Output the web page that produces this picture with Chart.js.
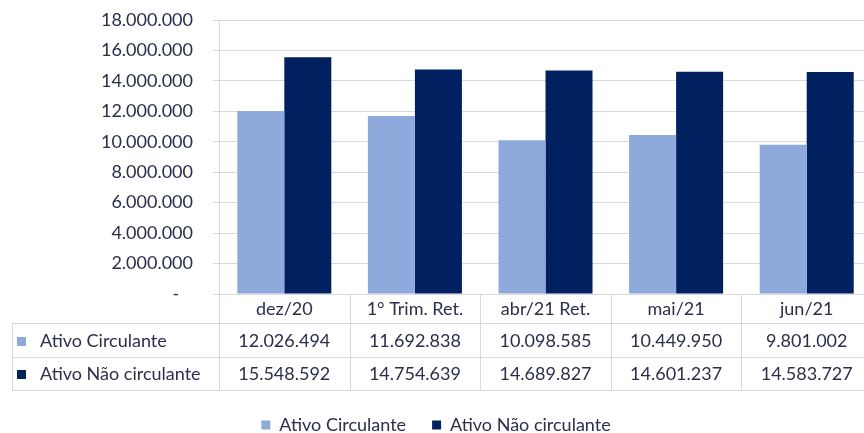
<!DOCTYPE html>
<html>
<head>
<meta charset="utf-8">
<script src="https://cdn.jsdelivr.net/npm/chart.js@4"></script>
<style>
html, body { margin: 0; padding: 0; background: #fff; }
#wrap { width: 864px; height: 433px; overflow: hidden; }
#wrap canvas { display: block; }
</style>
</head>
<body>
<div id="wrap"><canvas id="myChart" width="872" height="433"></canvas></div>
<script>
// dados do gráfico
const categorias = ['dez/20', '1° Trim. Ret.', 'abr/21 Ret.', 'mai/21', 'jun/21'];
const ativoCirculante = [12026494, 11692838, 10098585, 10449950, 9801002];
const ativoNaoCirculante = [15548592, 14754639, 14689827, 14601237, 14583727];
const series = ['Ativo Circulante', 'Ativo Não circulante'];
const cores = ['#8EA9DB', '#002060'];
const yMin = 0, yMax = 18000000, yPasso = 2000000;

const corTexto = '#2a2f4c';
const corLinha = '#d9d9d9';
const fonte = 'Lato, "Open Sans", sans-serif';

function formata(v) {
    return String(v).replace(/\B(?=(\d{3})+(?!\d))/g, '.');
}

// TABELA DE DADOS ABAIXO DO EIXO
const tabelaDados = {
    id: 'tabelaDados',
    afterDraw(chart) {
        const ctx = chart.ctx;
        const area = chart.chartArea;
        const x = chart.scales.x;
        const meio = (x.getPixelForValue(1) - x.getPixelForValue(0)) / 2;
        const topo = area.bottom;
        const linhas = [topo, topo + 29, topo + 63, topo + 96];
        const esq = 12;
        const a = v => Math.round(v) + 0.5;

        ctx.save();
        ctx.strokeStyle = corLinha;
        ctx.lineWidth = 1;
        ctx.beginPath();
        for (let i = 1; i < linhas.length; i++) {
            ctx.moveTo(esq, a(linhas[i]));
            ctx.lineTo(chart.width, a(linhas[i]));
        }
        ctx.moveTo(a(esq), linhas[1]);
        ctx.lineTo(a(esq), linhas[3]);
        for (let i = 0; i <= categorias.length; i++) {
            const px = a(x.getPixelForValue(i) - meio);
            ctx.moveTo(px, topo);
            ctx.lineTo(px, linhas[3]);
        }
        ctx.stroke();

        ctx.fillStyle = corTexto;
        ctx.font = '18px ' + fonte;
        ctx.textAlign = 'center';
        ctx.textBaseline = 'middle';
        categorias.forEach((c, i) => {
            ctx.fillText(c, x.getPixelForValue(i), (linhas[0] + linhas[1]) / 2 + 1);
        });

        const valores = [ativoCirculante, ativoNaoCirculante];
        valores.forEach((serie, s) => {
            const cy = (linhas[s + 1] + linhas[s + 2]) / 2 + 1;
            ctx.fillStyle = cores[s];
            ctx.fillRect(17, Math.round(cy - 4.5), 9, 9);
            ctx.fillStyle = corTexto;
            ctx.textAlign = 'left';
            ctx.fillText(series[s], 40, cy);
            ctx.textAlign = 'center';
            serie.forEach((v, i) => {
                ctx.fillText(formata(v), x.getPixelForValue(i), cy);
            });
        });
        ctx.restore();
    }
};

const ctx = document.getElementById('myChart');

const myChart = new Chart(ctx, {
    type: 'bar',
    data: {
        labels: categorias,
        datasets: [{
            label: series[0],
            data: ativoCirculante,
            backgroundColor: cores[0],
            categoryPercentage: 0.72,
            barPercentage: 1
        }, {
            label: series[1],
            data: ativoNaoCirculante,
            backgroundColor: cores[1],
            categoryPercentage: 0.72,
            barPercentage: 1
        }]
    },
    plugins: [tabelaDados],
    options: {
        responsive: false,
        animation: false,
        layout: { padding: { top: 20, left: 0, right: 0, bottom: -11 } },
        plugins: {
            tooltip: { enabled: false },
            legend: {
                position: 'bottom',
                labels: {
                    boxWidth: 9,
                    boxHeight: 9,
                    padding: 26,
                    color: corTexto,
                    font: { family: fonte, size: 18 }
                }
            }
        },
        scales: {
            x: {
                grid: { display: false },
                border: { color: corLinha },
                ticks: { display: false },
                afterFit(scale) { scale.height = 96; }
            },
            y: {
                min: yMin,
                max: yMax,
                ticks: {
                    stepSize: yPasso,
                    padding: 20,
                    color: corTexto,
                    font: { family: fonte, size: 18 },
                    callback: v => v === 0 ? '-   ' : formata(v)
                },
                grid: { color: corLinha, tickLength: 6 },
                border: { color: corLinha },
                afterFit(scale) {
                    scale.width = 219;
                    scale.paddingTop = 10;
                    scale.paddingBottom = 10;
                }
            }
        }
    }
});
</script>
</body>
</html>
